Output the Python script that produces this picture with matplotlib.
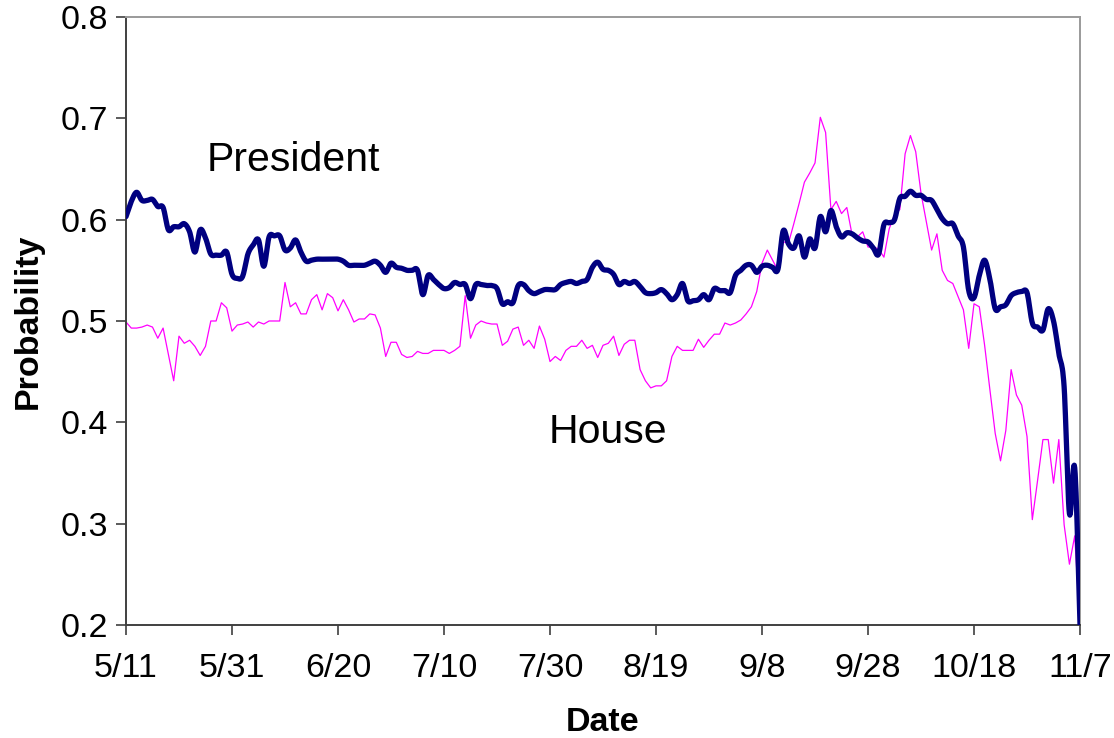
import numpy as np
import matplotlib
matplotlib.use("Agg")
import matplotlib.pyplot as plt

plt.rcParams['font.family'] = ['Liberation Sans', 'DejaVu Sans']

# Daily series, 5/11 through 11/7
president = [
    0.603, 0.618, 0.627, 0.619, 0.619, 0.620, 0.613, 0.612, 0.590, 0.593,
    0.593, 0.596, 0.588, 0.568, 0.590, 0.582, 0.566, 0.565, 0.565, 0.568,
    0.546, 0.542, 0.544, 0.566, 0.575, 0.580, 0.554, 0.583, 0.584, 0.584,
    0.570, 0.572, 0.580, 0.568, 0.559, 0.560, 0.561, 0.561, 0.561, 0.561,
    0.561, 0.559, 0.555, 0.555, 0.555, 0.555, 0.557, 0.559, 0.555, 0.548,
    0.557, 0.553, 0.552, 0.550, 0.550, 0.550, 0.526, 0.545, 0.541, 0.536,
    0.532, 0.533, 0.538, 0.536, 0.536, 0.522, 0.536, 0.536, 0.535, 0.535,
    0.532, 0.517, 0.519, 0.518, 0.535, 0.536, 0.530, 0.527, 0.529, 0.531,
    0.531, 0.531, 0.536, 0.538, 0.539, 0.537, 0.539, 0.541, 0.553, 0.558,
    0.551, 0.550, 0.546, 0.536, 0.539, 0.537, 0.539, 0.534, 0.528, 0.527,
    0.528, 0.531, 0.527, 0.521, 0.526, 0.537, 0.520, 0.520, 0.521, 0.526,
    0.521, 0.532, 0.530, 0.530, 0.528, 0.545, 0.550, 0.555, 0.555, 0.548,
    0.554, 0.555, 0.553, 0.551, 0.589, 0.576, 0.572, 0.584, 0.563, 0.581,
    0.572, 0.603, 0.588, 0.609, 0.593, 0.583, 0.587, 0.586, 0.582, 0.579,
    0.578, 0.572, 0.566, 0.595, 0.597, 0.600, 0.621, 0.623, 0.628, 0.624,
    0.624, 0.620, 0.619, 0.610, 0.601, 0.596, 0.596, 0.584, 0.573, 0.530,
    0.523, 0.545, 0.560, 0.541, 0.512, 0.514, 0.516, 0.525, 0.528, 0.529,
    0.528, 0.498, 0.494, 0.491, 0.512, 0.500, 0.468, 0.435, 0.310, 0.355,
    0.200,
]

house = [
    0.499, 0.493, 0.493, 0.494, 0.496, 0.494, 0.483, 0.493, 0.467, 0.441,
    0.485, 0.478, 0.481, 0.475, 0.466, 0.475, 0.500, 0.500, 0.518, 0.513,
    0.490, 0.496, 0.497, 0.499, 0.494, 0.499, 0.497, 0.500, 0.500, 0.500,
    0.538, 0.514, 0.518, 0.507, 0.507, 0.521, 0.526, 0.511, 0.527, 0.523,
    0.510, 0.521, 0.511, 0.499, 0.502, 0.502, 0.507, 0.506, 0.493, 0.465,
    0.479, 0.479, 0.467, 0.464, 0.465, 0.470, 0.468, 0.468, 0.471, 0.471,
    0.471, 0.468, 0.471, 0.475, 0.525, 0.483, 0.496, 0.500, 0.498, 0.497,
    0.497, 0.476, 0.480, 0.492, 0.494, 0.476, 0.481, 0.473, 0.495, 0.482,
    0.460, 0.465, 0.461, 0.471, 0.475, 0.475, 0.481, 0.473, 0.476, 0.464,
    0.476, 0.478, 0.485, 0.466, 0.477, 0.481, 0.481, 0.452, 0.441, 0.434,
    0.436, 0.436, 0.441, 0.465, 0.475, 0.471, 0.471, 0.471, 0.482, 0.474,
    0.481, 0.487, 0.487, 0.498, 0.496, 0.498, 0.501, 0.507, 0.514, 0.529,
    0.557, 0.570, 0.560, 0.550, 0.578, 0.577, 0.596, 0.616, 0.637, 0.646,
    0.656, 0.701, 0.686, 0.610, 0.618, 0.606, 0.612, 0.585, 0.583, 0.588,
    0.573, 0.573, 0.571, 0.563, 0.591, 0.605, 0.610, 0.665, 0.683, 0.667,
    0.626, 0.598, 0.570, 0.586, 0.550, 0.540, 0.537, 0.524, 0.511, 0.473,
    0.517, 0.514, 0.476, 0.432, 0.389, 0.362, 0.392, 0.452, 0.427, 0.417,
    0.386, 0.304, 0.343, 0.383, 0.383, 0.340, 0.383, 0.299, 0.260, 0.288,
    0.200,
]

tick_labels = ["5/11", "5/31", "6/20", "7/10", "7/30", "8/19", "9/8",
               "9/28", "10/18", "11/7"]


def smooth(x, y, n=12):
    """Catmull-Rom spline through the points (smoothed line style)."""
    x = np.asarray(x, float)
    y = np.asarray(y, float)
    px = np.concatenate([[2 * x[0] - x[1]], x, [2 * x[-1] - x[-2]]])
    py = np.concatenate([[2 * y[0] - y[1]], y, [2 * y[-1] - y[-2]]])
    t = np.linspace(0, 1, n, endpoint=False)
    xs, ys = [], []
    for i in range(1, len(px) - 2):
        for arr, out in ((px, xs), (py, ys)):
            p0, p1, p2, p3 = arr[i - 1], arr[i], arr[i + 1], arr[i + 2]
            out.append(0.5 * ((2 * p1) + (-p0 + p2) * t
                              + (2 * p0 - 5 * p1 + 4 * p2 - p3) * t ** 2
                              + (-p0 + 3 * p1 - 3 * p2 + p3) * t ** 3))
    xs.append([x[-1]])
    ys.append([y[-1]])
    return np.concatenate(xs), np.concatenate(ys)


days = np.arange(len(president))

fig = plt.figure(figsize=(11.14, 7.38), dpi=100)
ax = fig.add_axes([0.1131, 0.1531, 0.8564, 0.8239])

ax.plot(days, house, color="#FF00FF", lw=0.9, zorder=2)
sx, sy = smooth(days, president)
ax.plot(sx, sy, color="#000080", lw=3.8, zorder=3,
        solid_joinstyle="round", solid_capstyle="round")

ax.set_xlim(0, 180)
ax.set_ylim(0.2, 0.8)
ax.set_xticks(np.arange(0, 181, 20))
ax.set_xticklabels(tick_labels)
ax.set_yticks(np.arange(0.2, 0.81, 0.1))
ax.set_yticklabels([f"{v:.1f}" for v in np.arange(0.2, 0.81, 0.1)])

ax.tick_params(axis="both", direction="out", length=7, width=1.2,
               color="#404040", labelsize=24.5, labelcolor="black")
ax.tick_params(axis="x", pad=13)
ax.tick_params(axis="y", pad=6)

for side in ("left", "bottom"):
    ax.spines[side].set_color("#404040")
    ax.spines[side].set_linewidth(1.4)
for side in ("top", "right"):
    ax.spines[side].set_color("#9a9a9a")
    ax.spines[side].set_linewidth(1.4)

ax.set_xlabel("Date", fontsize=24.5, fontweight="bold", labelpad=17)
ax.set_ylabel("Probability", fontsize=24.5, fontweight="bold", labelpad=12)

ax.text(15.3, 0.659, "President", fontsize=29.5, va="center", ha="left")
ax.text(79.8, 0.390, "House", fontsize=29.5, va="center", ha="left")

fig.savefig("out.png", dpi=100)
